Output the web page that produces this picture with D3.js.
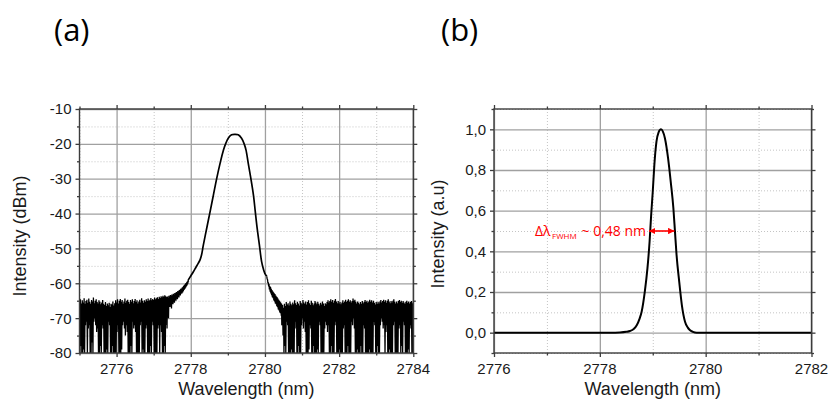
<!DOCTYPE html>
<html>
<head>
<meta charset="utf-8">
<script src="https://cdn.jsdelivr.net/npm/d3@7"></script>
<style>
  html, body { margin: 0; padding: 0; background: #fff; }
  svg { display: block; }
</style>
</head>
<body>
<script>
// ---------------- DATA ----------------
// Panel (a): spectrum in dBm
const aXTicks = [2776, 2778, 2780, 2782, 2784];
const aXMinor = [2775, 2777, 2779, 2781, 2783];
const aYTicks = [-10, -20, -30, -40, -50, -60, -70, -80];
const aYMinor = [-15, -25, -35, -45, -55, -65, -75];

// central emission line (smooth part)
const aPeakWl = [2777.93, 2778.0, 2778.07, 2778.14, 2778.2, 2778.25, 2778.29, 2778.34, 2778.43, 2778.52,
  2778.61, 2778.70, 2778.79, 2778.88, 2778.95, 2779.01, 2779.1, 2779.19, 2779.28, 2779.37,
  2779.44, 2779.49, 2779.55, 2779.62, 2779.69, 2779.74, 2779.79, 2779.85, 2779.91, 2779.96, 2780.0, 2780.05];
const aPeakDb = [-59.1, -57.9, -56.7, -55.4, -54.3, -53.3, -51.9, -49.0, -44.2, -39.5,
  -34.7, -29.9, -25.6, -21.8, -19.7, -18.4, -17.4, -17.27, -17.4, -18.4,
  -20.0, -21.8, -25.6, -29.9, -34.7, -39.5, -44.2, -49.0, -53.8, -56.0, -57.2, -58.0];

// noisy wings of the line (sample maxima / minima)
const aWingLeftRange = [2777.35, 2777.93];
const aWingLeftTop = [-64.0,-63.8,-64.2,-63.6,-63.9,-63.4,-63.7,-63.2,-63.5,-63.0,-63.3,-62.8,-62.9,-62.5,-62.7,
  -62.2,-62.4,-61.9,-62.0,-61.6,-61.5,-61.2,-61.0,-60.7,-60.5,-60.2,-59.9,-59.7,-59.4,-59.1];
const aWingLeftLow = [-73.0,-66.2,-70.0,-65.9,-66.8,-65.5,-67.2,-65.1,-66.0,-64.8,-65.6,-64.5,-65.0,-64.2,-64.6,
  -63.8,-64.1,-63.4,-63.5,-63.0,-62.9,-62.6,-62.3,-61.9,-61.6,-61.3,-60.9,-60.6,-60.1,-59.6];
const aWingRightRange = [2780.05, 2780.45];
const aWingRightTop = [-58.0,-58.9,-59.7,-60.2,-60.8,-61.1,-61.6,-61.9,-62.3,-62.6,-62.9,-63.1,-63.5,-63.8,-64.0,
  -64.4,-64.7,-65.0,-65.3,-65.6,-65.9];
const aWingRightLow = [-58.8,-60.0,-60.9,-61.8,-62.4,-62.9,-63.4,-64.0,-64.3,-64.9,-65.2,-65.8,-66.0,-66.6,-66.9,
  -67.5,-67.8,-68.4,-68.6,-69.3,-72.0];

// noise floor (sample maxima / minima)
const aNoiseLeftRange = [2775.0, 2777.35];
const aNoiseLeftTop = [-65.2,-64.6,-65.8,-64.9,-65.5,-64.3,-65.9,-65.1,-64.7,-65.6,
  -64.4,-65.3,-65.9,-64.8,-65.2,-64.1,-65.7,-65.0,-64.6,-65.4,
  -65.8,-64.9,-65.3,-66.0,-65.5,-64.8,-65.9,-66.2,-65.4,-66.5,
  -65.8,-66.3,-65.6,-66.8,-65.9,-66.1,-65.2,-66.4,-65.7,-64.9,
  -65.5,-64.6,-65.8,-65.0,-64.5,-65.3,-64.8,-65.9,-65.2,-64.4,
  -65.6,-65.0,-64.7,-65.4,-65.9,-64.8,-65.3,-64.6,-65.7,-65.1,
  -64.5,-65.4,-64.9,-65.8,-65.2,-64.7,-65.5,-64.3,-65.0,-65.6,
  -64.9,-65.3,-64.6,-65.1,-64.4,-65.0,-64.7,-64.2,-64.9,-64.5,
  -64.8,-64.1,-64.6,-64.3,-64.0,-64.5,-63.9,-64.2,-63.7,-64.0,
  -63.6,-63.9,-63.4,-63.7,-64.0];
const aNoiseLeftLow = [-80,-78,-80,-80,-79,-80, -72,-71, -80, -73,-72,
  -80,-80,-77,-80, -71,-70,-72,-74,-73, -80,-80,-78,-80, -72,-73,
  -80,-80,-80,-79,-80, -71,-72, -80,-80,-78,-80,-80,-80,-80, -74,-72,
  -80,-80,-80,-79, -72,-71,-73,-75,-72,-74, -80,-80,-80,-78,-80,
  -71,-73,-72,-74, -80,-80,-80,-80, -72,-71, -80,-79,-80,-80, -73,-72,
  -80,-80,-80,-78,-80, -71,-72, -80,-80,-80,-80, -73,-72, -80, -72,-74,
  -80,-80,-78,-80, -72,-69];
const aNoiseRightRange = [2780.45, 2784.0];
const aNoiseRightTop = [-66.8,-66.2,-67.0,-65.9,-66.5,-65.4,-66.1,-65.7,-66.4,-65.2,
  -65.9,-66.3,-65.5,-66.0,-64.9,-65.7,-66.2,-65.3,-65.8,-66.4,
  -65.1,-65.6,-66.0,-64.8,-65.5,-65.9,-65.2,-66.1,-65.4,-64.9,
  -65.7,-66.2,-65.0,-65.6,-66.3,-65.8,-65.1,-65.5,-66.0,-65.3,
  -65.9,-66.4,-65.6,-66.1,-65.2,-65.8,-66.5,-65.7,-66.0,-65.4,
  -64.9,-65.5,-65.1,-64.6,-65.3,-64.8,-65.6,-65.0,-64.5,-65.2,
  -65.7,-65.1,-65.8,-65.4,-66.0,-65.5,-64.9,-65.6,-65.2,-64.7,
  -65.4,-65.0,-64.6,-65.3,-64.9,-65.5,-65.1,-64.4,-65.0,-64.7,
  -65.3,-65.8,-65.2,-65.6,-66.0,-65.4,-65.9,-65.1,-65.7,-65.3,
  -64.8,-65.4,-65.0,-65.6,-65.2,-64.7,-65.3,-64.9,-65.5,-65.0,
  -65.6,-66.1,-65.4,-65.9,-65.3,-65.8,-65.2,-64.8,-65.5,-65.1,
  -64.7,-65.3,-64.9,-65.6,-65.0,-64.6,-65.2,-65.7,-65.1,-65.5,
  -65.0,-64.6,-65.3,-65.8,-65.2,-65.7,-65.1,-64.8,-65.4,-65.0,
  -65.6,-65.1,-65.5,-65.9,-65.3,-65.0,-65.6,-65.2,-65.8,-65.4,
  -65.1,-65.7,-65.3];
const aNoiseRightLow = [-72,-75,-80,-78,-80, -71,-72, -80,-80,-80,-79,-80,-80,-80, -73,-71,
  -80,-80,-78,-80,-80, -72,-70,-73,-71,-74, -80,-80,-80,-79, -72,-73,
  -80,-80,-78,-80,-80,-80,-79,-80, -71,-72, -80,-80,-80,-80, -73,-71,-72,-74,-72,
  -80,-80,-78,-80,-80,-80, -72,-71, -80,-80,-80,-79,-80,-80,-80, -73,-72,
  -80,-80,-80,-78,-80,-80,-80, -71,-72,-70,-73, -80,-80,-79,-80,-80,-80,-78,-80,-80,
  -72,-73, -80,-80,-80,-80,-79,-80,-80,-80,-80, -71,-72, -80,-80,-78,-80,-80,
  -72,-70,-71,-73,-72, -80, -74,-72, -80,-80,-79,-80,-80,-80, -72,-71,
  -80,-80,-80,-80, -73,-72, -80,-78,-80, -71,-72, -80,-80,-80,-79,-80, -72,-73,
  -80,-80,-77];

// Panel (b): normalised spectrum
const bXTicks = [2776, 2778, 2780, 2782];
const bXMinor = [2777, 2779, 2781];
const bYTicks = [0.0, 0.2, 0.4, 0.6, 0.8, 1.0];
const bYMinor = [-0.1, 0.1, 0.3, 0.5, 0.7, 0.9, 1.1];
const bWl = [2776, 2778.2, 2778.38, 2778.5, 2778.57, 2778.64, 2778.70, 2778.75, 2778.79, 2778.85,
  2778.9, 2778.94, 2778.97, 2779.0, 2779.03, 2779.07, 2779.11, 2779.156, 2779.19, 2779.23,
  2779.29, 2779.34, 2779.39, 2779.42, 2779.45, 2779.5, 2779.55, 2779.61, 2779.66, 2779.70,
  2779.76, 2779.83, 2780.0, 2782];
const bVal = [0, 0, 0.001, 0.004, 0.008, 0.018, 0.038, 0.068, 0.103, 0.202,
  0.317, 0.447, 0.579, 0.693, 0.824, 0.939, 0.985, 1.0, 0.99, 0.956,
  0.857, 0.742, 0.612, 0.497, 0.382, 0.251, 0.136, 0.054, 0.026, 0.013,
  0.004, 0.0, 0, 0];
const bFwhm = [2778.93, 2779.41];
const bFwhmLevel = 0.5;

// ---------------- DRAW ----------------
const W = 830, H = 407;
const svg = d3.select("body").append("svg").attr("width", W).attr("height", H)
  .style("font-family", "'Liberation Sans', Arial, sans-serif");

const FRAME = "#3c3c3c", MAJ = "#a0a0a0", MIN = "#c4c4c4", TICKTXT = "#1a1a1a";

function panel(cfg) {
  const g = svg.append("g");
  const x = d3.scaleLinear().domain(cfg.xDomain).range([cfg.left, cfg.right]);
  const y = d3.scaleLinear().domain(cfg.yDomain).range([cfg.bottom, cfg.top]);
  const h = cfg.bottom - cfg.top, w = cfg.right - cfg.left;

  // grids
  const grid = g.append("g");
  grid.append("g").attr("transform", `translate(0,${cfg.bottom})`)
    .call(d3.axisBottom(x).tickValues(cfg.xMinor).tickSize(-h).tickFormat(""))
    .call(s => { s.select(".domain").remove(); s.selectAll("line").attr("stroke", MIN).attr("stroke-dasharray", "1,2"); });
  grid.append("g").attr("transform", `translate(${cfg.left},0)`)
    .call(d3.axisLeft(y).tickValues(cfg.yMinor).tickSize(-w).tickFormat(""))
    .call(s => { s.select(".domain").remove(); s.selectAll("line").attr("stroke", MIN).attr("stroke-dasharray", "1,2"); });
  grid.append("g").attr("transform", `translate(0,${cfg.bottom})`)
    .call(d3.axisBottom(x).tickValues(cfg.xTicks).tickSize(-h).tickFormat(""))
    .call(s => { s.select(".domain").remove(); s.selectAll("line").attr("stroke", MAJ).attr("stroke-width", 1.3); });
  grid.append("g").attr("transform", `translate(${cfg.left},0)`)
    .call(d3.axisLeft(y).tickValues(cfg.yTicks).tickSize(-w).tickFormat(""))
    .call(s => { s.select(".domain").remove(); s.selectAll("line").attr("stroke", MAJ).attr("stroke-width", 1.3); });

  // data
  const clipId = "clip" + cfg.id;
  svg.append("defs").append("clipPath").attr("id", clipId)
    .append("rect").attr("x", cfg.left).attr("y", cfg.top).attr("width", w).attr("height", h);
  const data = g.append("g").attr("clip-path", `url(#${clipId})`);
  cfg.draw(data, x, y);

  // frame
  g.append("rect").attr("x", cfg.left).attr("y", cfg.top).attr("width", w).attr("height", h)
    .attr("fill", "none").attr("stroke", FRAME).attr("stroke-width", 1.4);

  // ticks (all four sides, outward)
  const styleTicks = s => { s.select(".domain").remove(); s.selectAll("line").attr("stroke", FRAME).attr("stroke-width", 1.3); };
  const sides = [
    [d3.axisBottom, `translate(0,${cfg.bottom})`, x, cfg.xTicks, cfg.xMinor],
    [d3.axisTop, `translate(0,${cfg.top})`, x, cfg.xTicks, cfg.xMinor],
    [d3.axisLeft, `translate(${cfg.left},0)`, y, cfg.yTicks, cfg.yMinor],
    [d3.axisRight, `translate(${cfg.right},0)`, y, cfg.yTicks, cfg.yMinor]
  ];
  sides.forEach(([ax, tr, sc, maj, mn]) => {
    g.append("g").attr("transform", tr).call(ax(sc).tickValues(maj).tickSize(4).tickFormat("")).call(styleTicks);
    g.append("g").attr("transform", tr).call(ax(sc).tickValues(mn).tickSize(2.5).tickFormat("")).call(styleTicks);
  });

  // tick labels
  g.selectAll(".xl").data(cfg.xTicks).join("text")
    .attr("x", d => x(d)).attr("y", cfg.bottom + 20.5)
    .attr("text-anchor", "middle").attr("font-size", 15).attr("fill", TICKTXT)
    .text(cfg.xFmt);
  g.selectAll(".yl").data(cfg.yTicks).join("text")
    .attr("x", cfg.left - 8).attr("y", d => y(d)).attr("dy", "0.36em")
    .attr("text-anchor", "end").attr("font-size", 15).attr("fill", TICKTXT)
    .text(cfg.yFmt);

  // axis titles
  g.append("text").attr("x", (cfg.left + cfg.right) / 2).attr("y", 395)
    .attr("text-anchor", "middle").attr("font-size", 18).attr("fill", TICKTXT)
    .text("Wavelength (nm)");
  g.append("text").attr("transform", `translate(${cfg.yTitleX},${cfg.yTitleY}) rotate(-90)`)
    .attr("text-anchor", "middle").attr("font-size", 18).attr("fill", TICKTXT)
    .text(cfg.yTitle);

  // panel letter
  svg.append("text").attr("x", cfg.letterX).attr("y", 41)
    .attr("font-family", "'Open Sans', 'Noto Sans', sans-serif").attr("font-size", 31).attr("fill", "#000")
    .text(cfg.letter);
  return { x, y };
}

// zig-zag path between sample maxima and minima
function zigzag(range, tops, lows) {
  const n = tops.length, step = (range[1] - range[0]) / (n - 1);
  const pts = [];
  tops.forEach((t, i) => {
    const wl = range[0] + i * step;
    pts.push([wl, t]);
    pts.push([wl + step / 2, lows[i]]);
  });
  return pts;
}

panel({
  id: "a", letter: "(a)", letterX: 54,
  left: 79.5, right: 413.3, top: 109, bottom: 353,
  xDomain: [2775, 2784], yDomain: [-80, -10],
  xTicks: aXTicks, xMinor: aXMinor, yTicks: aYTicks, yMinor: aYMinor,
  xFmt: d => String(d), yFmt: d => String(d),
  yTitle: "Intensity (dBm)", yTitleX: 26, yTitleY: 236,
  draw: (g, x, y) => {
    const lin = d3.line().x(d => x(d[0])).y(d => y(d[1]));
    const pieces = [
      zigzag(aNoiseLeftRange, aNoiseLeftTop, aNoiseLeftLow),
      zigzag(aWingLeftRange, aWingLeftTop, aWingLeftLow),
      zigzag(aWingRightRange, aWingRightTop, aWingRightLow),
      zigzag(aNoiseRightRange, aNoiseRightTop, aNoiseRightLow)
    ];
    pieces.forEach(p => g.append("path").attr("d", lin(p)).attr("fill", "none")
      .attr("stroke", "#000").attr("stroke-width", 1.3).attr("stroke-linejoin", "bevel"));
    const smooth = d3.line().x((d, i) => x(aPeakWl[i])).y(d => y(d)).curve(d3.curveCatmullRom);
    g.append("path").attr("d", smooth(aPeakDb)).attr("fill", "none")
      .attr("stroke", "#000").attr("stroke-width", 1.7);
  }
});

panel({
  id: "b", letter: "(b)", letterX: 441,
  left: 494, right: 811.5, top: 109, bottom: 353,
  xDomain: [2776, 2782], yDomain: [-0.1, 1.1],
  xTicks: bXTicks, xMinor: bXMinor, yTicks: bYTicks, yMinor: bYMinor,
  xFmt: d => String(d), yFmt: d => d3.format(".1f")(d).replace(".", ","),
  yTitle: "Intensity (a.u)", yTitleX: 443.5, yTitleY: 234,
  draw: (g, x, y) => {
    const line = d3.line().x((d, i) => x(bWl[i])).y(d => y(d)).curve(d3.curveMonotoneX);
    g.append("path").attr("d", line(bVal)).attr("fill", "none")
      .attr("stroke", "#000").attr("stroke-width", 2);

    // FWHM arrow
    const defs = svg.append("defs");
    ["s", "e"].forEach(k => {
      defs.append("marker").attr("id", "arr" + k).attr("viewBox", "0 0 10 10")
        .attr("refX", 10).attr("refY", 5).attr("markerWidth", 4).attr("markerHeight", 4)
        .attr("orient", k === "e" ? "auto" : "auto-start-reverse")
        .append("path").attr("d", "M0,0 L10,5 L0,10 Z").attr("fill", "#ff0000");
    });
    const ay = y(bFwhmLevel);
    svg.append("line").attr("x1", x(bFwhm[0])).attr("x2", x(bFwhm[1]))
      .attr("y1", ay).attr("y2", ay).attr("stroke", "#ff0000").attr("stroke-width", 1.6)
      .attr("marker-start", "url(#arrs)").attr("marker-end", "url(#arre)");
    const tf = "'Open Sans', 'Noto Sans', sans-serif";
    const tx = x(bFwhm[0]) - 3;
    svg.append("text").attr("x", tx).attr("y", ay + 4.5).attr("text-anchor", "end")
      .attr("font-family", tf).attr("font-size", 14).attr("fill", "#ff0000").text("~ 0,48 nm");
    svg.append("text").attr("x", 552).attr("y", ay + 7.5)
      .attr("font-family", tf).attr("font-size", 8).attr("fill", "#ff0000").text("FWHM");
    svg.append("text").attr("x", 535).attr("y", ay + 4.5)
      .attr("font-family", tf).attr("font-size", 14).attr("fill", "#ff0000").text("Δλ");
  }
});
</script>
</body>
</html>
